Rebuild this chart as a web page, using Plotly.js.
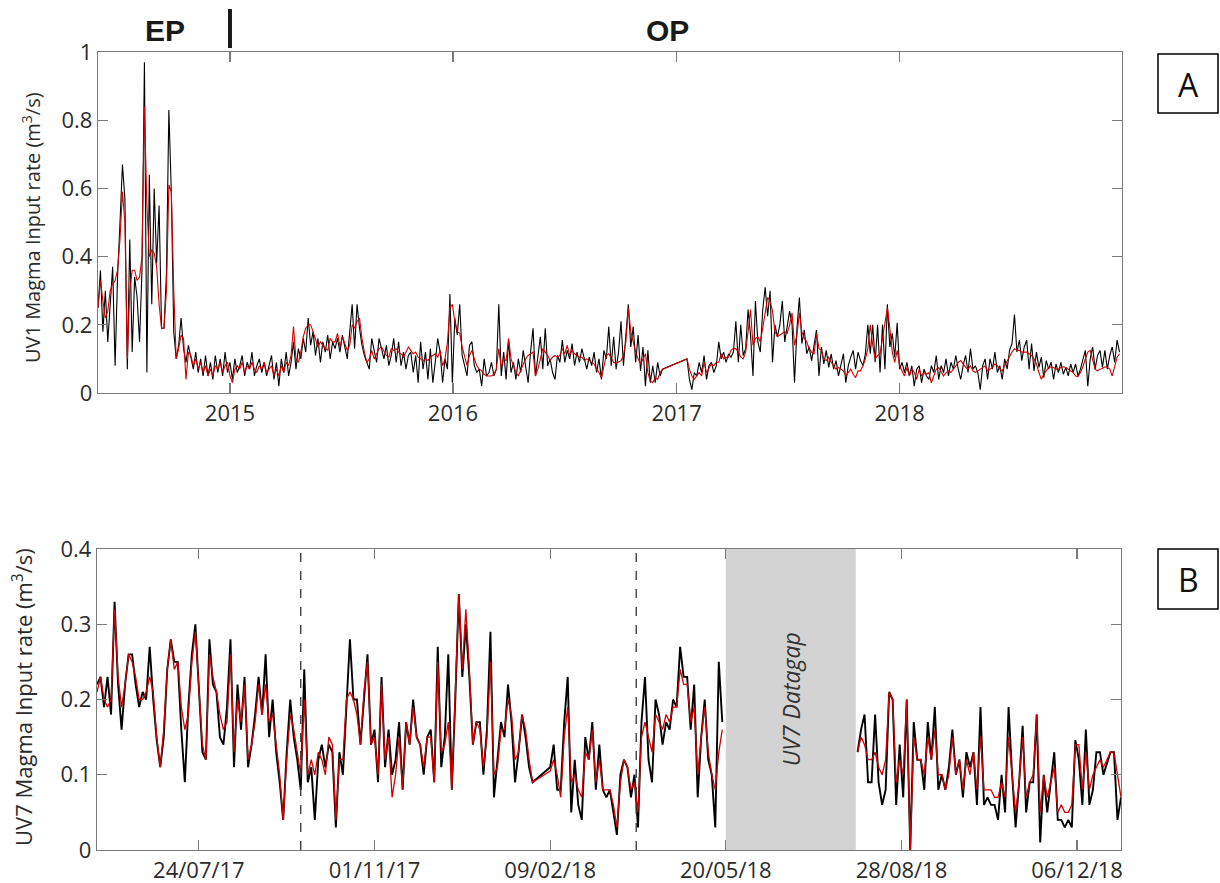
<!DOCTYPE html>
<html>
<head>
<meta charset="utf-8">
<script src="https://cdn.plot.ly/plotly-3.0.1.min.js"></script>
<style>html,body{margin:0;padding:0;background:#fff;}#chart{width:1220px;height:883px;}</style>
</head>
<body>
<div id="chart"></div>
<script>
// ---------- DATA ----------
// Panel A: UV1 magma input rate, sampled every 4 days from 2014-05-30
const uv1Start = '2014-05-30';
const uv1StepDays = 4;
const uv1Daily = [
0.25,0.36,0.18,0.30,0.15,0.28,0.37,0.08,0.34,0.50,
0.67,0.57,0.07,0.45,0.12,0.34,0.28,0.15,0.36,0.97,
0.06,0.64,0.26,0.60,0.38,0.55,0.19,0.19,0.35,0.83,
0.59,0.18,0.10,0.14,0.22,0.13,0.09,0.14,0.10,0.07,
0.12,0.06,0.10,0.05,0.11,0.05,0.09,0.04,0.11,0.06,
0.10,0.05,0.12,0.06,0.09,0.04,0.10,0.06,0.08,0.11,
0.05,0.09,0.07,0.12,0.05,0.08,0.10,0.06,0.09,0.05,
0.08,0.11,0.04,0.09,0.02,0.10,0.06,0.12,0.05,0.09,
0.15,0.07,0.13,0.10,0.16,0.12,0.22,0.14,0.18,0.11,
0.16,0.09,0.15,0.12,0.17,0.10,0.15,0.13,0.16,0.12,
0.17,0.13,0.10,0.18,0.26,0.13,0.26,0.19,0.14,0.11,
0.09,0.07,0.16,0.12,0.09,0.16,0.13,0.10,0.14,0.08,
0.11,0.16,0.09,0.15,0.08,0.12,0.07,0.11,0.12,0.06,
0.11,0.03,0.15,0.07,0.12,0.04,0.13,0.03,0.09,0.16,
0.12,0.03,0.10,0.07,0.29,0.03,0.22,0.17,0.26,0.11,
0.08,0.05,0.14,0.15,0.08,0.06,0.07,0.02,0.10,0.05,
0.06,0.09,0.05,0.07,0.26,0.05,0.12,0.04,0.155,0.06,
0.09,0.04,0.10,0.06,0.125,0.07,0.03,0.12,0.19,0.05,
0.115,0.165,0.07,0.19,0.08,0.10,0.06,0.04,0.11,0.09,
0.155,0.09,0.125,0.10,0.145,0.08,0.12,0.09,0.13,0.10,
0.07,0.105,0.08,0.12,0.06,0.10,0.04,0.125,0.10,0.195,
0.08,0.165,0.07,0.12,0.21,0.08,0.185,0.26,0.135,0.195,
0.09,0.17,0.065,0.135,0.02,0.125,0.03,0.08,0.03,0.09,
0.05,0.07,null,null,null,null,null,null,null,null,
null,0.10,0.04,0.01,0.06,0.05,0.09,0.06,0.11,0.04,
0.08,0.09,0.06,0.08,0.15,0.10,0.12,0.09,0.115,0.105,
0.12,0.21,0.09,0.20,0.11,0.13,0.245,0.17,0.05,0.27,
0.15,0.12,0.245,0.31,0.225,0.30,0.09,0.20,0.165,0.20,
0.27,0.15,0.195,0.24,0.20,0.03,0.19,0.28,0.145,0.185,
0.115,0.135,0.095,0.145,0.185,0.05,0.135,0.085,0.125,0.075,
0.115,0.07,0.095,0.05,0.085,0.115,0.03,0.08,0.105,0.125,
0.07,0.12,0.095,0.08,0.115,0.20,0.115,0.20,0.09,0.20,
0.06,0.20,0.07,0.26,0.135,0.175,0.105,0.205,0.07,0.09,
0.06,0.09,0.05,0.08,0.02,0.07,0.08,0.03,0.07,0.05,
0.04,0.08,0.06,0.11,0.04,0.08,0.06,0.10,0.05,0.09,
0.07,0.11,0.07,0.04,0.08,0.11,0.06,0.13,0.07,0.08,
0.06,0.01,0.08,0.10,0.04,0.10,0.07,0.12,0.06,0.08,
0.04,0.10,0.07,0.125,0.145,0.23,0.12,0.155,0.095,0.135,
0.155,0.07,0.145,0.065,0.12,0.075,0.105,0.045,0.095,0.07,
0.09,0.04,0.085,0.06,0.09,0.055,0.075,0.05,0.085,0.06,
0.085,0.05,0.07,0.10,0.125,0.02,0.10,0.135,0.07,0.11,
0.125,0.075,0.125,0.07,0.11,0.135,0.09,0.155,0.12
];
const uv1Smooth = [
0.25,0.33,0.27,0.22,0.24,0.30,0.32,0.33,0.36,0.45,
0.59,0.50,0.10,0.30,0.36,0.36,0.33,0.34,0.40,0.84,
0.55,0.40,0.42,0.41,0.37,0.26,0.19,0.19,0.30,0.61,
0.59,0.30,0.10,0.13,0.17,0.16,0.04,0.12,0.11,0.08,
0.10,0.07,0.09,0.06,0.08,0.05,0.07,0.05,0.08,0.07,
0.09,0.06,0.08,0.09,0.05,0.03,0.07,0.08,0.07,0.09,
0.06,0.08,0.07,0.09,0.07,0.06,0.08,0.07,0.09,0.06,
0.07,0.08,0.05,0.07,0.05,0.08,0.06,0.09,0.08,0.11,
0.195,0.10,0.09,0.12,0.165,0.19,0.20,0.20,0.18,0.16,
0.135,0.15,0.14,0.13,0.125,0.16,0.15,0.15,0.175,0.135,
0.165,0.145,0.125,0.14,0.20,0.19,0.21,0.22,0.16,0.12,
0.09,0.10,0.125,0.10,0.115,0.13,0.135,0.12,0.11,0.105,
0.13,0.125,0.13,0.12,0.115,0.105,0.12,0.135,0.125,0.115,
0.12,0.105,0.10,0.095,0.10,0.095,0.105,0.11,0.115,0.105,
0.125,0.08,0.10,0.15,0.25,0.26,0.21,0.18,0.175,0.135,
0.11,0.08,0.11,0.125,0.10,0.08,0.07,0.065,0.055,0.05,
0.05,0.05,0.055,0.07,0.13,0.075,0.10,0.095,0.16,0.10,
0.08,0.06,0.05,0.065,0.085,0.10,0.11,0.115,0.12,0.05,
0.07,0.10,0.13,0.12,0.11,0.095,0.105,0.11,0.105,0.11,
0.13,0.115,0.14,0.11,0.125,0.115,0.11,0.105,0.105,0.095,
0.10,0.095,0.09,0.085,0.07,0.06,0.045,0.08,0.11,0.115,
0.10,0.09,0.087,0.09,0.095,0.11,0.15,0.25,0.18,0.15,
0.12,0.10,0.085,0.10,0.115,0.06,0.035,0.03,0.045,0.04,
0.06,0.07,null,null,null,null,null,null,null,null,
null,0.10,0.07,0.05,0.04,0.05,0.06,0.05,0.09,0.06,
0.075,0.085,0.08,0.09,0.09,0.115,0.10,0.105,0.105,0.125,
0.13,0.13,0.12,0.105,0.10,0.12,0.18,0.245,0.14,0.16,
0.165,0.15,0.19,0.235,0.28,0.27,0.24,0.18,0.165,0.17,
0.175,0.18,0.175,0.20,0.235,0.14,0.17,0.235,0.18,0.16,
0.15,0.13,0.12,0.115,0.175,0.13,0.125,0.10,0.095,0.105,
0.09,0.08,0.07,0.075,0.07,0.065,0.05,0.06,0.07,0.055,
0.045,0.065,0.065,0.08,0.10,0.13,0.20,0.14,0.10,0.11,
0.115,0.16,0.21,0.25,0.19,0.12,0.09,0.125,0.08,0.065,
0.05,0.075,0.05,0.07,0.06,0.04,0.07,0.05,0.06,0.055,
0.06,0.03,0.05,0.07,0.075,0.06,0.05,0.06,0.065,0.06,
0.07,0.08,0.09,0.095,0.085,0.075,0.07,0.08,0.065,0.06,
0.065,0.07,0.075,0.08,0.065,0.07,0.075,0.085,0.08,0.07,
0.065,0.08,0.095,0.11,0.12,0.13,0.125,0.125,0.12,0.12,
0.12,0.115,0.11,0.10,0.085,0.06,0.04,0.055,0.065,0.075,
0.077,0.075,0.07,0.07,0.075,0.077,0.075,0.07,0.067,0.06,
0.05,0.048,0.06,0.077,0.10,0.12,0.125,0.10,0.07,0.065,
0.07,0.072,0.077,0.075,0.07,0.05,0.08,0.105,0.115
];

// Panel B: UV7 magma input rate, sampled every 2 days
const uv7StepDays = 2;
const uv7StartA = '2017-05-27';   // before the data gap
const uv7DailyA = [
0.22,0.23,0.19,0.23,0.18,0.33,0.22,0.16,0.22,0.26,
0.26,0.22,0.19,0.21,0.20,0.27,0.20,0.146,0.11,0.15,
0.24,0.28,0.25,0.25,0.16,0.09,0.19,0.26,0.30,0.21,
0.13,0.12,0.28,0.22,0.21,0.15,0.14,0.19,0.28,0.11,
0.22,0.16,0.23,0.11,0.14,0.18,0.23,0.18,0.26,0.15,
0.20,0.13,0.09,0.04,0.13,0.20,0.15,0.12,0.08,0.24,
0.09,0.11,0.04,0.12,0.14,0.11,0.14,0.13,0.03,0.13,
0.10,0.19,0.28,0.20,0.20,0.14,0.20,0.26,0.14,0.16,
0.09,0.23,0.11,0.16,0.10,0.12,0.17,0.08,0.17,0.14,
0.20,0.15,0.14,0.10,0.15,0.16,0.09,0.27,0.11,0.15,
0.26,0.08,0.20,0.34,0.23,0.30,0.23,0.14,0.17,0.17,
0.10,0.16,0.29,0.07,0.12,0.17,0.15,0.22,0.17,0.09,
0.13,0.18,0.15,0.11,0.09,null,null,null,null,0.11,
0.14,0.08,0.08,0.17,0.23,0.05,0.12,0.06,0.04,0.15,
0.12,0.17,0.08,0.14,0.08,0.07,0.08,0.05,0.02,0.10,
0.12,0.11,0.07,0.10,0.03,0.17,0.23,0.12,0.09,0.20,
0.18,0.14,0.17,0.16,0.20,0.19,0.27,0.23,0.23,0.16,
0.22,0.07,0.15,0.20,0.12,0.10,0.03,0.25,0.17
];
const uv7SmoothA = [
0.21,0.23,0.20,0.19,0.20,0.32,0.23,0.19,0.22,0.26,
0.25,0.23,0.20,0.20,0.21,0.23,0.21,0.15,0.11,0.16,
0.24,0.28,0.24,0.25,0.19,0.16,0.18,0.25,0.29,0.22,
0.14,0.12,0.26,0.23,0.21,0.18,0.16,0.17,0.26,0.13,
0.20,0.17,0.22,0.12,0.14,0.17,0.22,0.18,0.22,0.17,
0.18,0.14,0.10,0.04,0.12,0.18,0.16,0.13,0.10,0.20,
0.10,0.12,0.10,0.13,0.12,0.10,0.15,0.14,0.04,0.12,
0.12,0.20,0.21,0.20,0.18,0.14,0.21,0.25,0.14,0.15,
0.10,0.22,0.12,0.15,0.07,0.10,0.15,0.08,0.17,0.14,
0.19,0.15,0.14,0.11,0.15,0.15,0.09,0.25,0.13,0.14,
0.17,0.08,0.20,0.34,0.24,0.32,0.24,0.14,0.17,0.16,
0.11,0.15,0.25,0.10,0.11,0.16,0.16,0.20,0.18,0.12,
0.13,0.18,0.16,0.12,0.09,null,null,null,null,0.105,
0.12,0.10,0.07,0.15,0.19,0.09,0.10,0.08,0.07,0.13,
0.12,0.16,0.09,0.12,0.08,0.08,0.08,0.06,0.03,0.09,
0.12,0.11,0.08,0.09,0.05,0.15,0.17,0.15,0.13,0.18,
0.17,0.16,0.18,0.17,0.19,0.19,0.24,0.22,0.22,0.17,
0.19,0.10,0.15,0.19,0.13,0.10,0.08,0.13,0.16
];
const uv7StartB = '2018-08-03';   // after the data gap
const uv7DailyB = [
0.13,0.16,0.18,0.09,0.09,0.18,0.09,0.06,0.08,0.21,
0.20,0.06,0.14,0.07,0.20,0.00,0.17,0.12,0.12,0.08,
0.17,0.12,0.19,0.08,0.10,0.08,0.11,0.16,0.10,0.12,
0.07,0.13,0.11,0.13,0.06,0.19,0.06,0.07,0.06,0.06,
0.04,0.10,0.05,0.19,0.10,0.03,0.09,0.165,0.05,0.09,
0.09,0.18,0.01,0.10,0.05,0.09,0.13,0.04,0.04,0.03,
0.04,0.03,0.146,0.12,0.06,0.16,0.06,0.08,0.13,0.13,
0.10,0.115,0.13,0.13,0.04,0.07
];
const uv7SmoothB = [
0.13,0.15,0.14,0.12,0.12,0.13,0.11,0.10,0.12,0.21,
0.20,0.09,0.12,0.10,0.20,0.00,0.15,0.12,0.12,0.10,
0.15,0.12,0.16,0.10,0.10,0.08,0.10,0.15,0.10,0.12,
0.08,0.12,0.10,0.13,0.08,0.15,0.08,0.08,0.08,0.07,
0.07,0.09,0.07,0.15,0.10,0.05,0.09,0.15,0.07,0.09,
0.10,0.18,0.05,0.10,0.07,0.09,0.11,0.05,0.06,0.05,
0.05,0.06,0.14,0.14,0.08,0.13,0.08,0.10,0.11,0.12,
0.11,0.12,0.13,0.13,0.10,0.07
];

// Axis ticks & annotations data
const topTickVals = ['2015-01-01','2016-01-01','2017-01-01','2018-01-01'];
const topTickText = ['2015','2016','2017','2018'];
const botTickVals = ['2017-07-24','2017-11-01','2018-02-09','2018-05-20','2018-08-28','2018-12-06'];
const botTickText = ['24/07/17','01/11/17','09/02/18','20/05/18','28/08/18','06/12/18'];
const topYTicks = [0,0.2,0.4,0.6,0.8,1];
const botYTicks = [0,0.1,0.2,0.3,0.4];
const phaseBoundary = '2015-01-01';
const dashedDates = ['2017-09-20','2018-03-30'];
const dataGap = ['2018-05-20','2018-08-02'];

// ---------- helpers ----------
function gridDates(start, stepDays, n){
  const t0 = Date.parse(start + 'T00:00:00Z');
  const out = [];
  for(let i=0;i<n;i++) out.push(new Date(t0 + i*stepDays*86400000).toISOString().slice(0,10));
  return out;
}
const W = 1220, H = 883;
const px = v => v / W;
const py = v => 1 - v / H;

const BLACK = '#000000', RED = '#d40000';
const uv1Dates = gridDates(uv1Start, uv1StepDays, uv1Daily.length);
const uv7DatesA = gridDates(uv7StartA, uv7StepDays, uv7DailyA.length);
const uv7DatesB = gridDates(uv7StartB, uv7StepDays, uv7DailyB.length);

const traces = [
  {x: uv1Dates, y: uv1Daily, type:'scatter', mode:'lines', connectgaps:true, line:{color:BLACK, width:1.1}, xaxis:'x', yaxis:'y', hoverinfo:'skip'},
  {x: uv1Dates, y: uv1Smooth, type:'scatter', mode:'lines', connectgaps:true, line:{color:RED, width:1.1}, xaxis:'x', yaxis:'y', hoverinfo:'skip'},
  {x: uv7DatesA, y: uv7DailyA, type:'scatter', mode:'lines', connectgaps:true, line:{color:BLACK, width:1.9}, xaxis:'x2', yaxis:'y2', hoverinfo:'skip'},
  {x: uv7DatesB, y: uv7DailyB, type:'scatter', mode:'lines', connectgaps:true, line:{color:BLACK, width:1.9}, xaxis:'x2', yaxis:'y2', hoverinfo:'skip'},
  {x: uv7DatesA, y: uv7SmoothA, type:'scatter', mode:'lines', connectgaps:true, line:{color:RED, width:1.3}, xaxis:'x2', yaxis:'y2', hoverinfo:'skip'},
  {x: uv7DatesB, y: uv7SmoothB, type:'scatter', mode:'lines', connectgaps:true, line:{color:RED, width:1.3}, xaxis:'x2', yaxis:'y2', hoverinfo:'skip'}
];

const tickFont = {family:'Open Sans, sans-serif', size:22, color:'#2b2b2b'};
const axisCommon = {
  showline:true, linecolor:'#7a7a7a', linewidth:1.2, mirror:'ticks',
  ticks:'inside', ticklen:10, tickwidth:1.2, tickcolor:'#7a7a7a',
  showgrid:false, zeroline:false, tickfont:tickFont, fixedrange:true
};

const layout = {
  width:W, height:H, margin:{l:0,r:0,t:0,b:0},
  paper_bgcolor:'#fff', plot_bgcolor:'#fff', showlegend:false,
  xaxis: Object.assign({}, axisCommon, {domain:[px(98), px(1122)], anchor:'y', type:'date',
    range:['2014-05-30','2018-12-31'], tickmode:'array', tickvals:topTickVals, ticktext:topTickText}),
  yaxis: Object.assign({}, axisCommon, {domain:[py(393), py(52)], anchor:'x', range:[0,1],
    tickmode:'array', tickvals:topYTicks, ticktext:topYTicks.map(String)}),
  xaxis2: Object.assign({}, axisCommon, {domain:[px(97), px(1121)], anchor:'y2', type:'date',
    range:['2017-05-27','2018-12-31'], tickmode:'array', tickvals:botTickVals, ticktext:botTickText}),
  yaxis2: Object.assign({}, axisCommon, {domain:[py(850), py(549)], anchor:'x2', range:[0,0.4],
    tickmode:'array', tickvals:botYTicks, ticktext:botYTicks.map(String)}),
  shapes: [
    {type:'rect', xref:'x2', yref:'y2', x0:dataGap[0], x1:dataGap[1], y0:0, y1:0.4, fillcolor:'#d3d3d3', line:{width:0}, layer:'below'},
    ...dashedDates.map(d => ({type:'line', xref:'x2', yref:'y2', x0:d, x1:d, y0:0, y1:0.4, line:{color:'#333', width:1.3, dash:'dash'}})),
    {type:'line', xref:'x', yref:'paper', x0:phaseBoundary, x1:phaseBoundary, y0:py(48), y1:py(9), line:{color:'#1a1a1a', width:4}},
    {type:'rect', xref:'paper', yref:'paper', x0:px(1158), x1:px(1218), y0:py(113), y1:py(54), line:{color:'#000', width:1.5}, fillcolor:'rgba(0,0,0,0)'},
    {type:'rect', xref:'paper', yref:'paper', x0:px(1158), x1:px(1218), y0:py(609), y1:py(549), line:{color:'#000', width:1.5}, fillcolor:'rgba(0,0,0,0)'}
  ],
  annotations: [
    {text:'<b>EP</b>', xref:'paper', yref:'paper', x:px(165), y:py(31), showarrow:false, xanchor:'center', yanchor:'middle', font:{family:'Liberation Sans, Arial, sans-serif', size:30, color:'#1a1a1a'}},
    {text:'<b>OP</b>', xref:'paper', yref:'paper', x:px(667), y:py(31), showarrow:false, xanchor:'center', yanchor:'middle', font:{family:'Liberation Sans, Arial, sans-serif', size:30, color:'#1a1a1a'}},
    {text:'A', xref:'paper', yref:'paper', x:px(1188), y:py(84), showarrow:false, xanchor:'center', yanchor:'middle', font:{family:'Open Sans, sans-serif', size:32, color:'#111'}},
    {text:'B', xref:'paper', yref:'paper', x:px(1188), y:py(579), showarrow:false, xanchor:'center', yanchor:'middle', font:{family:'Open Sans, sans-serif', size:32, color:'#111'}},
    {text:'UV1 Magma Input rate (m<sup>3</sup>/s)', xref:'paper', yref:'paper', x:px(32), y:py(228), textangle:-90, showarrow:false, xanchor:'center', yanchor:'middle', font:{family:'Open Sans, sans-serif', size:20, color:'#2b2b2b'}},
    {text:'UV7 Magma Input rate (m<sup>3</sup>/s)', xref:'paper', yref:'paper', x:px(22), y:py(697), textangle:-90, showarrow:false, xanchor:'center', yanchor:'middle', font:{family:'Open Sans, sans-serif', size:22, color:'#2b2b2b'}},
    {text:'<i>UV7 Datagap</i>', xref:'x2', yref:'y2', x:'2018-06-26', y:0.2, textangle:-90, showarrow:false, xanchor:'center', yanchor:'middle', font:{family:'Open Sans, sans-serif', size:23, color:'#333'}}
  ]
};

Plotly.newPlot('chart', traces, layout, {staticPlot:true, displayModeBar:false});
</script>
</body>
</html>
